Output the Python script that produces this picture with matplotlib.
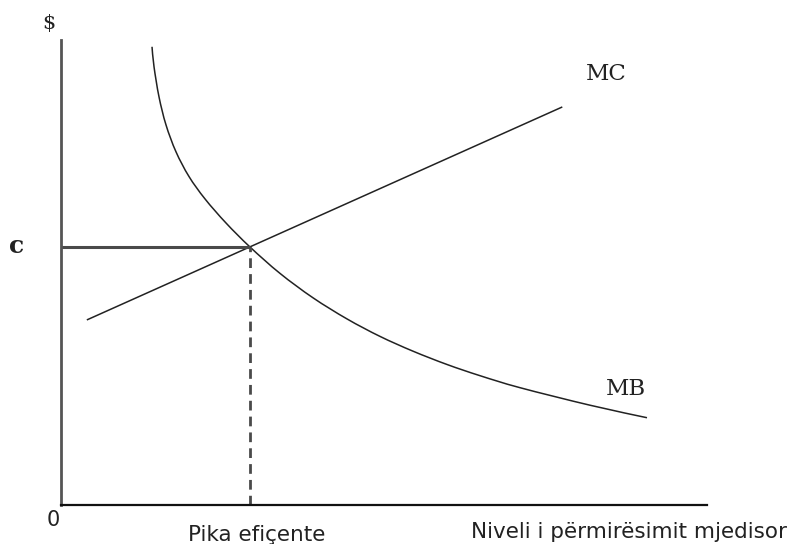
import matplotlib
matplotlib.use("Agg")
import matplotlib.pyplot as plt
from matplotlib.path import Path
from matplotlib.patches import PathPatch

# ---- data (x: level of environmental improvement, y: $) ----
mc_x = [0.40, 7.76]
mc_y = [3.98, 8.56]

mb_x = [1.409, 1.440, 1.517, 1.625, 1.780, 1.981, 2.229, 2.554, 2.926, 3.390,
        3.901, 4.427, 4.938, 5.449, 5.975, 6.486, 7.105, 8.189, 9.071]
mb_y = [9.854, 9.424, 8.778, 8.176, 7.596, 7.065, 6.583, 6.065, 5.548, 4.981,
        4.456, 4.002, 3.626, 3.308, 3.022, 2.781, 2.523, 2.146, 1.877]

eq_x = 2.93   # efficient point
eq_y = 5.55   # price c

curve_labels = ["MC", "MB"]
x_label = "Niveli i përmirësimit mjedisor"
eq_label = "Pika efiçente"
y_label = "$"
c_label = "c"
origin_label = "0"

W, H = 790, 544
fig = plt.figure(figsize=(W / 100, H / 100), dpi=100)
ax = fig.add_axes([61 / W, 1 - 505 / H, 646 / W, 465 / H])
ax.set_xlim(0, 10)
ax.set_ylim(0, 10)
for s in ["top", "right"]:
    ax.spines[s].set_visible(False)
ax.spines["left"].set_linewidth(2.0)
ax.spines["left"].set_color("#555555")
ax.spines["bottom"].set_linewidth(1.6)
ax.spines["bottom"].set_color("#111111")
ax.set_xticks([])
ax.set_yticks([])

ax.plot(mc_x, mc_y, color="#222222", lw=1.1, solid_capstyle="butt")

# MB drawn as a smooth Catmull-Rom (cubic Bezier) path through the read points
pts = list(zip(mb_x, mb_y))
n = len(pts)
verts = [pts[0]]
codes = [Path.MOVETO]
for i in range(n - 1):
    p0 = pts[i - 1] if i > 0 else pts[i]
    p1 = pts[i]
    p2 = pts[i + 1]
    p3 = pts[i + 2] if i + 2 < n else pts[i + 1]
    c1 = (p1[0] + (p2[0] - p0[0]) / 6, p1[1] + (p2[1] - p0[1]) / 6)
    c2 = (p2[0] - (p3[0] - p1[0]) / 6, p2[1] - (p3[1] - p1[1]) / 6)
    verts += [c1, c2, p2]
    codes += [Path.CURVE4] * 3
ax.add_patch(PathPatch(Path(verts, codes), fill=False, edgecolor="#222222",
                       lw=1.1))

ax.plot([0, eq_x], [eq_y, eq_y], color="#4a4a4a", lw=2.2, solid_capstyle="butt")
ax.plot([eq_x, eq_x], [0, eq_y], color="#4a4a4a", lw=2.0,
        linestyle=(0, (3.5, 2.2)))


def fp(px, py):
    return px / W, 1 - py / H


serif = "DejaVu Serif"
fig.text(*fp(606, 74), curve_labels[0], family=serif, fontsize=16.5,
         ha="center", va="center", color="#222222")
fig.text(*fp(626, 389), curve_labels[1], family=serif, fontsize=16.5,
         ha="center", va="center", color="#222222")
fig.text(*fp(49, 23), y_label, family=serif, fontsize=15,
         ha="center", va="center", color="#222222")
fig.text(*fp(17, 246), c_label, family=serif, fontsize=18, fontweight="bold",
         ha="center", va="center", color="#222222")
fig.text(*fp(53, 526), origin_label, family="DejaVu Sans", fontsize=15,
         ha="center", va="baseline", color="#222222")
fig.text(*fp(257, 541), eq_label, family="DejaVu Sans", fontsize=15.5,
         ha="center", va="baseline", color="#222222")
fig.text(*fp(629, 538), x_label, family="DejaVu Sans", fontsize=15.5,
         ha="center", va="baseline", color="#222222")

fig.savefig("out.png", dpi=100)
